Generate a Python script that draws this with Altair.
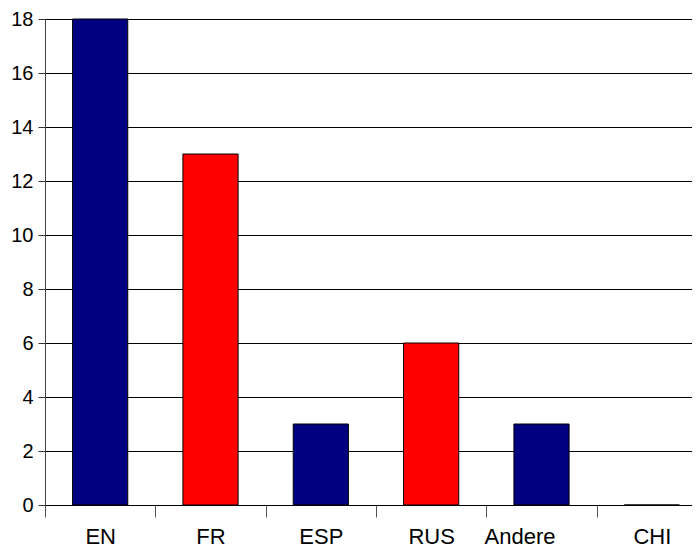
import altair as alt
import pandas as pd

languages = ["EN", "FR", "ESP", "RUS", "Andere", "CHI"]
counts = [18, 13, 3, 6, 3, 0]
colors = ["#000080", "#FF0000", "#000080", "#FF0000", "#000080", "#000080"]

df = pd.DataFrame({"lang": languages, "count": counts, "color": colors})

FONT = "Liberation Sans"

chart = alt.Chart(df).mark_bar(
    stroke="#000000", strokeWidth=1, width=alt.RelativeBandSize(0.5)
).encode(
    x=alt.X(
        "lang:N",
        sort=languages,
        title=None,
        scale=alt.Scale(range=[0, 662], paddingInner=0, paddingOuter=0),
        axis=alt.Axis(
            labelAngle=0,
            labelFont=FONT,
            labelFontSize=22,
            labelColor="#000000",
            labelBaseline="alphabetic",
            labelPadding=26,
            labelOffset=alt.condition("datum.value == 'Andere'", alt.value(-22), alt.value(0)),
            tickBand="extent",
            tickSize=12,
            tickColor="#555555",
            domainColor="#000000",
            grid=False,
        ),
    ),
    y=alt.Y(
        "count:Q",
        title=None,
        scale=alt.Scale(domain=[0, 18], nice=False),
        axis=alt.Axis(
            values=[0, 2, 4, 6, 8, 10, 12, 14, 16, 18],
            labelFont=FONT,
            labelFontSize=20,
            labelColor="#000000",
            labelPadding=5,
            tickSize=7,
            tickColor="#333333",
            domainColor="#444444",
            gridColor="#000000",
            gridOpacity=1,
            gridWidth=1,
        ),
    ),
    color=alt.Color("color:N", scale=None, legend=None),
).properties(
    width=647,
    height=486,
    autosize=alt.AutoSizeParams(type="none"),
    padding={"left": 37, "top": 11, "right": 0, "bottom": 43},
).configure_view(stroke=None).configure(background="#ffffff")

chart.save("out.html", embed_options={"renderer": "svg", "actions": False})
